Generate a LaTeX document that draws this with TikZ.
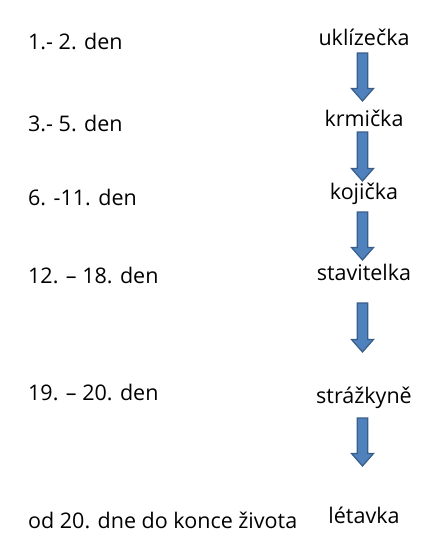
\documentclass[tikz,border=0pt]{standalone}
\usepackage{fontspec}
\setmainfont{Open Sans}
\usetikzlibrary{calc}
\definecolor{arrowfill}{HTML}{4F81BD}
\definecolor{arrowline}{HTML}{385D8A}
\tikzset{
  lbl/.style={inner sep=0pt, anchor=base west, font=\fontsize{21.5}{26}\selectfont},
  role/.style={inner sep=0pt, anchor=base, font=\fontsize{21.5}{26}\selectfont},
  blockarrow/.style={fill=arrowfill, draw=arrowline, line width=1.2pt, line join=miter}
}
\newcommand\mkarrow[2]{%
  \path[blockarrow] ($(#1)+(-5.3,0)$) -- ($(#2)+(-5.3,-12.5)$) -- ($(#2)+(-11,-12.5)$) -- (#2)
    -- ($(#2)+(11,-12.5)$) -- ($(#2)+(5.3,-12.5)$) -- ($(#1)+(5.3,0)$) -- cycle;}
\begin{document}
\begin{tikzpicture}[x=1pt,y=-1pt]
\useasboundingbox (0,0) rectangle (436,544);
% left labels
\node[lbl] (d1) at (28,49) {1.- 2. den};
\node[lbl] (d2) at (28,131) {3.- 5. den};
\node[lbl] (d3) at (28,205) {6. -11. den};
\node[lbl] (d4) at (28,283) {12. – 18. den};
\node[lbl] (d5) at (28,400) {19. – 20. den};
\node[lbl] (d6) at (28,528) {od 20. dne do konce života};
% roles
\node[role] (r1) at (364,45) {uklízečka};
\node[role] (r2) at (364,126) {krmička};
\node[role] (r3) at (364,199) {kojička};
\node[role] (r4) at (364,280) {stavitelka};
\node[role] (r5) at (364,403) {strážkyně};
\node[role] (r6) at (364,523) {létavka};
% arrow ends
\coordinate (a1s) at (362.5,53);  \coordinate (a1e) at (362.5,101);
\coordinate (a2s) at (362.5,132); \coordinate (a2e) at (362.5,181);
\coordinate (a3s) at (362.5,212); \coordinate (a3e) at (362.5,260);
\coordinate (a4s) at (362.5,303); \coordinate (a4e) at (362.5,352);
\coordinate (a5s) at (362.5,418); \coordinate (a5e) at (362.5,466);
\mkarrow{a1s}{a1e}
\mkarrow{a2s}{a2e}
\mkarrow{a3s}{a3e}
\mkarrow{a4s}{a4e}
\mkarrow{a5s}{a5e}
\end{tikzpicture}
\end{document}
